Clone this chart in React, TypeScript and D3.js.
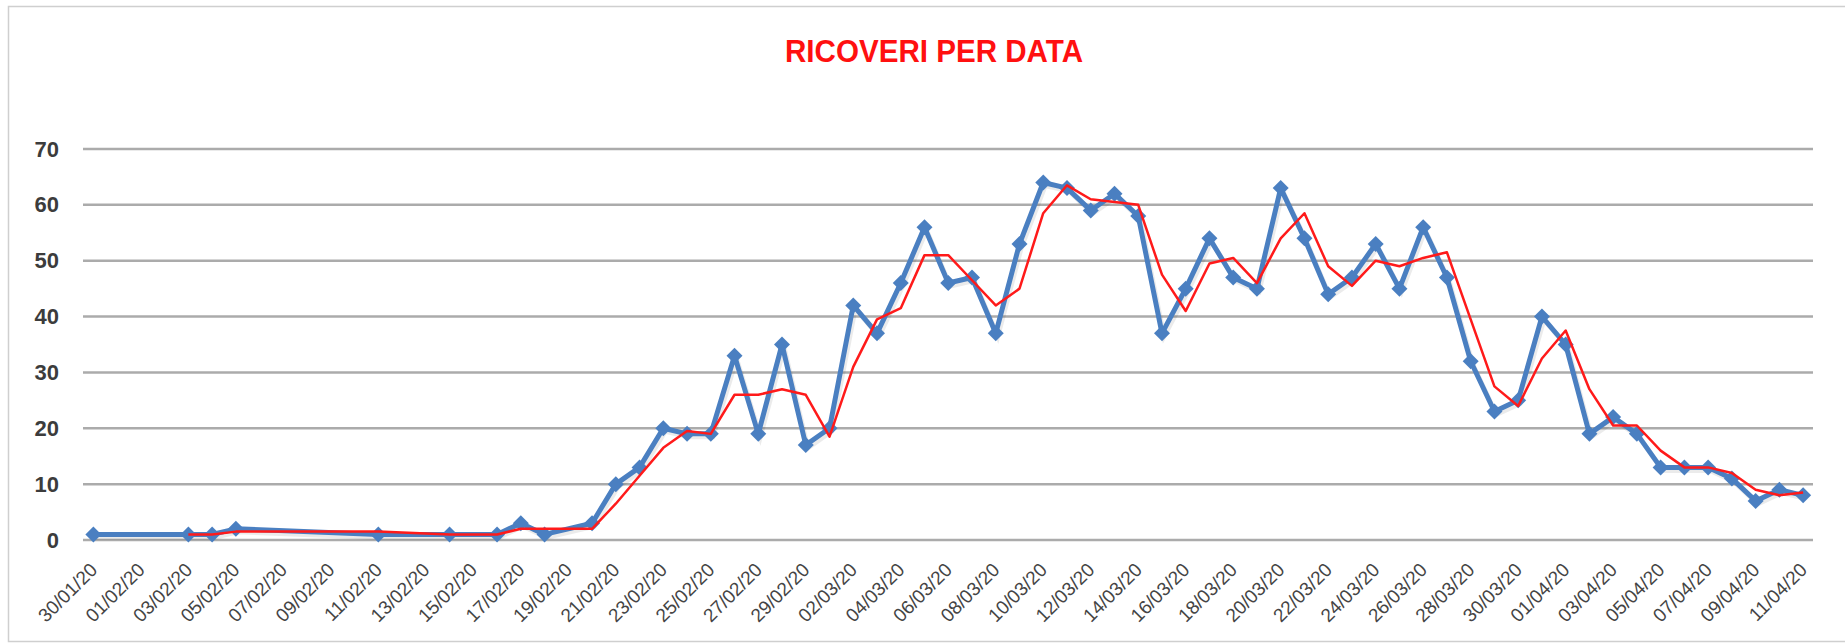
import React, { useEffect, useRef } from 'react';
import * as d3 from 'd3';

const dates = [
  '2020-01-30', '2020-02-03', '2020-02-04', '2020-02-05', '2020-02-11', '2020-02-14', '2020-02-16', '2020-02-17', '2020-02-18', '2020-02-20',
  '2020-02-21', '2020-02-22', '2020-02-23', '2020-02-24', '2020-02-25', '2020-02-26', '2020-02-27', '2020-02-28', '2020-02-29',
  '2020-03-01', '2020-03-02', '2020-03-03', '2020-03-04', '2020-03-05', '2020-03-06', '2020-03-07', '2020-03-08', '2020-03-09', '2020-03-10',
  '2020-03-11', '2020-03-12', '2020-03-13', '2020-03-14', '2020-03-15', '2020-03-16', '2020-03-17', '2020-03-18', '2020-03-19', '2020-03-20',
  '2020-03-21', '2020-03-22', '2020-03-23', '2020-03-24', '2020-03-25', '2020-03-26', '2020-03-27', '2020-03-28', '2020-03-29', '2020-03-30',
  '2020-03-31', '2020-04-01', '2020-04-02', '2020-04-03', '2020-04-04', '2020-04-05', '2020-04-06', '2020-04-07', '2020-04-08', '2020-04-09',
  '2020-04-10', '2020-04-11',
];

// ricoveri giornalieri
const ricoveri = [
  1, 1, 1, 2, 1, 1, 1, 3, 1, 3,
  10, 13, 20, 19, 19, 33, 19, 35, 17,
  20, 42, 37, 46, 56, 46, 47, 37, 53, 64,
  63, 59, 62, 58, 37, 45, 54, 47, 45, 63,
  54, 44, 47, 53, 45, 56, 47, 32, 23, 25,
  40, 35, 19, 22, 19, 13, 13, 13, 11, 7,
  9, 8,
];

// media mobile (rossa), dal 03/02 in poi
const mediaMobile = [
  1, 1, 1.5, 1.5, 1, 1, 2, 2, 2,
  6.5, 11.5, 16.5, 19.5, 19, 26, 26, 27, 26,
  18.5, 31, 39.5, 41.5, 51, 51, 46.5, 42, 45, 58.5,
  63.5, 61, 60.5, 60, 47.5, 41, 49.5, 50.5, 46, 54,
  58.5, 49, 45.5, 50, 49, 50.5, 51.5, 39.5, 27.5, 24,
  32.5, 37.5, 27, 20.5, 20.5, 16, 13, 13, 12, 9,
  8, 8.5,
];

const yTicks = [0, 10, 20, 30, 40, 50, 60, 70];
const title = 'RICOVERI PER DATA';

const App = () => {
  const svgRef = useRef<SVGSVGElement>(null);

  useEffect(() => {
    const width = 1845;
    const height = 643;
    const svg = d3.select(svgRef.current);
    svg.selectAll('*').remove();
    svg.attr('width', width).attr('height', height);

    const parse = d3.utcParse('%Y-%m-%d');
    const data = dates.map((d, i) => ({ date: parse(d), value: ricoveri[i] }));
    const trend = dates.slice(1).map((d, i) => ({ date: parse(d), value: mediaMobile[i] }));

    const first = parse(dates[0]);
    const last = parse(dates[dates.length - 1]);
    const half = 12 * 3600 * 1000;

    const x = d3.scaleUtc()
      .domain([new Date(+first - half), new Date(+last + half)])
      .range([81.5, 1815]);

    const y = d3.scaleLinear().domain([0, 70]).range([540, 149]);

    // cornice
    svg.append('rect').attr('width', width).attr('height', height).attr('fill', '#fff');
    svg.append('path')
      .attr('d', `M${width + 5},6.5H8.5V641.5H${width + 5}`)
      .attr('fill', 'none')
      .attr('stroke', '#cfcfcf')
      .attr('stroke-width', 1.5);

    // titolo
    svg.append('text')
      .attr('x', 934)
      .attr('y', 62)
      .attr('text-anchor', 'middle')
      .attr('font-family', '"Liberation Sans", Arial, sans-serif')
      .attr('font-weight', 'bold')
      .attr('font-size', 31)
      .attr('textLength', 298)
      .attr('lengthAdjust', 'spacingAndGlyphs')
      .attr('fill', '#ff1010')
      .text(title);

    // griglia
    const grid = svg.append('g');
    grid.selectAll('line')
      .data(yTicks)
      .enter()
      .append('line')
      .attr('x1', 83)
      .attr('x2', 1813)
      .attr('y1', d => y(d))
      .attr('y2', d => y(d))
      .attr('stroke', '#ababab')
      .attr('stroke-width', 2.5);

    // asse y
    const yAxis = d3.axisLeft(y).tickValues(yTicks).tickSize(0).tickPadding(0);
    svg.append('g')
      .attr('transform', 'translate(59,0)')
      .call(yAxis)
      .call(g => g.select('.domain').remove())
      .call(g => g.selectAll('text')
        .attr('font-family', '"Liberation Sans", Arial, sans-serif')
        .attr('font-weight', 'bold')
        .attr('font-size', 22)
        .attr('fill', '#3c3c3c'));

    // asse x: un'etichetta ogni due giorni
    const days = d3.utcDay.range(first, new Date(+last + 2 * half));
    const tickDays = days.filter((_, i) => i % 2 === 0);
    const fmt = d3.utcFormat('%d/%m/%y');
    const xLabels = svg.append('g');
    xLabels.selectAll('text')
      .data(tickDays)
      .enter()
      .append('text')
      .attr('transform', d => `translate(${x(d) + 5},${571}) rotate(-45)`)
      .attr('text-anchor', 'end')
      .attr('font-family', '"Liberation Sans", Arial, sans-serif')
      .attr('font-size', 19)
      .attr('fill', '#444')
      .text(d => fmt(d));

    const line = d3.line<{ date: Date; value: number }>()
      .x(d => x(d.date))
      .y(d => y(d.value))
      .curve(d3.curveLinear);

    // ombra leggera
    svg.append('path')
      .datum(data)
      .attr('d', line)
      .attr('transform', 'translate(2,3)')
      .attr('fill', 'none')
      .attr('stroke', '#000')
      .attr('stroke-opacity', 0.08)
      .attr('stroke-width', 5);

    svg.append('path')
      .datum(data)
      .attr('d', line)
      .attr('fill', 'none')
      .attr('stroke', '#4a7fc1')
      .attr('stroke-width', 5)
      .attr('stroke-linejoin', 'round');

    svg.append('g')
      .selectAll('path')
      .data(data)
      .enter()
      .append('path')
      .attr('d', 'M0,-8L8,0L0,8L-8,0Z')
      .attr('transform', d => `translate(${x(d.date)},${y(d.value)})`)
      .attr('fill', '#4a7fc1');

    svg.append('path')
      .datum(trend)
      .attr('d', line)
      .attr('fill', 'none')
      .attr('stroke', '#ff1a1a')
      .attr('stroke-width', 2.5)
      .attr('stroke-linejoin', 'round');
  }, []);

  return (
    <div style={{ position: 'absolute', left: 0, top: 0, background: '#fff' }}>
      <svg ref={svgRef} style={{ display: 'block' }}></svg>
    </div>
  );
};

export default App;
